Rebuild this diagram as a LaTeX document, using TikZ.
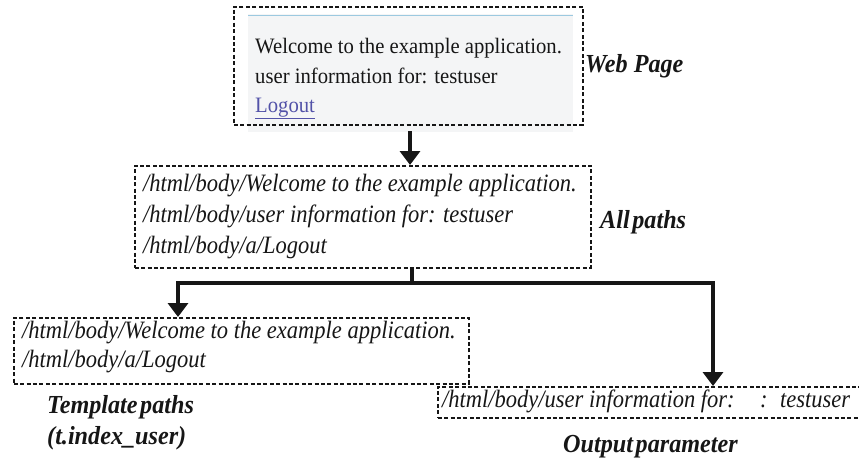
\documentclass[tikz,border=0pt]{standalone}
\usepackage{fontspec}
\setmainfont{Liberation Serif}
% slightly narrowed faces for the tall, tight glyphs
\newfontfamily\pathfont[FakeStretch=0.9]{Liberation Serif}
\newfontfamily\webfont[FakeStretch=0.94]{Liberation Serif}
\newfontfamily\lblfont[FakeStretch=0.93]{Liberation Serif}
\usetikzlibrary{arrows.meta}
\definecolor{shotbg}{HTML}{F4F5F6}
\definecolor{shotline}{HTML}{9CC9E0}
\definecolor{linkblue}{HTML}{5252A8}
\definecolor{ink}{HTML}{161616}
\tikzset{
  dbox/.style={draw=ink, dashed, dash pattern=on 4pt off 2.4pt, line width=1.5pt,
    inner sep=0pt, anchor=north west},
  pathtxt/.style={anchor=base west, inner sep=0pt, text=ink,
    font=\pathfont\fontsize{25}{30}\selectfont\itshape},
  webtxt/.style={anchor=base west, inner sep=0pt, text=ink,
    font=\webfont\fontsize{22}{30}\selectfont},
  lbl/.style={anchor=base west, inner sep=0pt, text=ink,
    font=\lblfont\fontsize{26}{30}\selectfont\bfseries\itshape},
  flow/.style={draw=ink, line width=4.5pt, line join=miter},
  arr/.style={flow, -{Triangle[width=20pt,length=14pt]}},
}
\begin{document}
\begin{tikzpicture}[x=1pt,y=-1pt]
\useasboundingbox (0,0) rectangle (859,458);

% web page screenshot
\node[fill=shotbg, minimum width=325pt, minimum height=118pt, inner sep=0pt,
  anchor=north west] (shot) at (248,14) {};
\draw[shotline, line width=1.8pt] (shot.north west) ++(0,1.5) coordinate (sl) -- (sl -| shot.east);
\node[webtxt] (w1) at (255,53) {Welcome to the example application.};
\node[webtxt] (w2) at (255,83) {user information for: testuser};
\node[webtxt, text=linkblue] (w3) at (255,112) {\underline{Logout}};
\node[dbox, minimum width=349pt, minimum height=118pt] (web) at (233,6) {};
\node[lbl] (lweb) at (585,72) {Web Page};

% all extracted paths
\node[dbox, minimum width=456pt, minimum height=102pt] (allp) at (134,165) {};
\node[pathtxt] (p1) at (143,191) {/html/body/Welcome to the example application.};
\node[pathtxt] (p2) at (143,222) {/html/body/user information for: testuser};
\node[pathtxt] (p3) at (143,253) {/html/body/a/Logout};
\node[lbl] (lall) at (600,228) {All\hspace{0.1em}paths};

% template paths
\node[dbox, minimum width=455pt, minimum height=66pt] (tmpl) at (13,317) {};
\node[pathtxt] (t1) at (22,338) {/html/body/Welcome to the example application.};
\node[pathtxt] (t2) at (22,367) {/html/body/a/Logout};
\node[lbl] (ltmpl1) at (47,413) {Template\hspace{0.1em}paths};
\node[lbl] (ltmpl2) at (47,444) {(t.index\_user)};

% output parameter
\node[dbox, minimum width=424pt, minimum height=31pt] (outp) at (437,386) {};
\node[pathtxt] (o1) at (442,407) {/html/body/user information for:};
\node[pathtxt] (o2) at (760,407) {:};
\node[pathtxt] (o3) at (780,407) {testuser};
\node[lbl] (lout) at (563,452) {Output\hspace{0.1em}parameter};

% connectors
\coordinate (a1) at (410,131);
\draw[arr] (a1) -- (a1 |- allp.north);
\coordinate (br) at (412,283);
\coordinate (tin) at (178,317);
\coordinate (oin) at (713,386);
\draw[flow] (allp.south -| br) -- (br);
\draw[arr] (br) -| (tin);
\draw[arr] (br) -| (oin);
\end{tikzpicture}
\end{document}
